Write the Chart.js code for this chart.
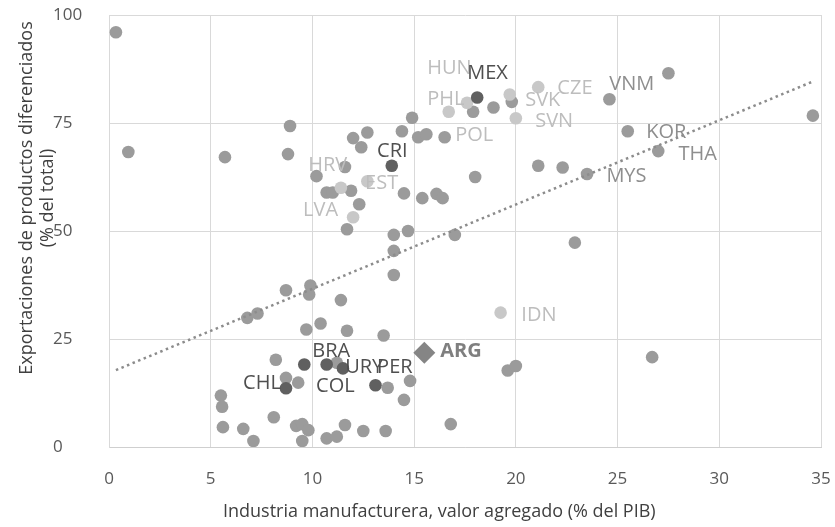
<!DOCTYPE html>
<html>
<head>
<meta charset="utf-8">
<script src="https://cdn.jsdelivr.net/npm/chart.js@4.4.0/dist/chart.umd.min.js"></script>
<style>
  body { margin: 0; background: #fff; }
  #chart { display: block; }
</style>
</head>
<body>
<canvas id="chart" width="835" height="527"></canvas>
<script>
// Countries without a highlight (plain gray dots)
const otherX = [0.34, 0.95, 5.7, 8.9, 8.8, 10.2, 11.6, 10.7, 11.0, 12.7, 12.0, 12.4, 14.4, 14.9, 15.2, 15.6, 16.5,
  18.0, 11.9, 14.5, 15.4, 16.1, 16.4, 12.3, 11.7, 14.0, 14.7, 17.0, 17.9, 18.9, 19.8, 21.1, 22.3, 27.5, 24.6,
  34.6, 25.5, 27.0, 23.5, 22.9, 14.0, 14.0, 8.7, 9.9, 9.84, 11.4, 6.8, 7.3, 9.7, 10.4, 11.7, 13.5, 8.2, 11.2,
  8.7, 9.3, 13.7, 14.8, 14.5, 19.6, 20.0, 26.7, 5.5, 5.56, 8.1, 5.6, 6.6, 7.1, 9.2, 9.5, 9.8, 9.5, 10.7, 11.2,
  11.6, 12.5, 13.6, 16.8];
const otherY = [96.0, 68.3, 67.1, 74.3, 67.8, 62.7, 64.8, 58.9, 58.9, 72.8, 71.5, 69.4, 73.1, 76.2, 71.7, 72.4, 71.7,
  62.5, 59.3, 58.7, 57.6, 58.6, 57.6, 56.2, 50.4, 49.1, 50.0, 49.1, 77.6, 78.6, 79.9, 65.1, 64.7, 86.5, 80.5,
  76.7, 73.1, 68.5, 63.2, 47.3, 45.4, 39.8, 36.3, 37.4, 35.3, 34.0, 29.9, 30.9, 27.2, 28.6, 26.9, 25.8, 20.2, 19.5,
  16.0, 14.9, 13.7, 15.3, 10.9, 17.7, 18.75, 20.8, 11.9, 9.3, 6.9, 4.6, 4.2, 1.4, 4.9, 5.3, 3.9, 1.4, 2.0, 2.4,
  5.1, 3.7, 3.7, 5.3];

// Light gray group (HUN, PHL, SVK, CZE, SVN, HRV, EST, LVA, IDN)
const lightX = [16.7, 17.6, 19.7, 21.1, 20.0, 11.4, 12.7, 12.0, 19.25];
const lightY = [77.6, 79.7, 81.6, 83.3, 76.1, 60.0, 61.5, 53.2, 31.1];

// Dark gray group (MEX, CRI, BRA, COL, URY, CHL, PER)
const darkX = [18.1, 13.9, 9.6, 10.7, 11.5, 8.7, 13.1];
const darkY = [80.9, 65.1, 19.1, 19.1, 18.2, 13.6, 14.3];

// Argentina
const argX = [15.5];
const argY = [21.8];

// Linear trend (ends at the data range)
const trendX = [0.34, 34.6];
const trendY = [17.8, 84.6];

const xTicks = [0, 5, 10, 15, 20, 25, 30, 35];
const yTicks = [0, 25, 50, 75, 100];

// Country labels: name, anchor in data units, colour group
const labelNames = ['HUN', 'MEX', 'PHL', 'SVK', 'CZE', 'SVN', 'POL', 'VNM', 'KOR', 'THA', 'MYS', 'HRV', 'EST',
  'LVA', 'CRI', 'IDN', 'ARG', 'BRA', 'URY', 'PER', 'CHL', 'COL'];
const labelX = [15.64, 17.61, 15.64, 20.46, 22.04, 20.95, 17.02, 24.59, 26.41, 27.99, 24.45, 9.79, 12.59,
  9.54, 13.18, 20.27, 16.28, 9.99, 11.61, 13.18, 6.59, 10.18];
const labelY = [87.7, 86.6, 80.6, 80.3, 83.1, 75.5, 72.2, 84.0, 72.9, 67.8, 62.7, 65.3, 61.1,
  54.9, 68.5, 30.6, 22.2, 22.2, 18.5, 18.5, 14.8, 14.1];
const labelGroup = ['light', 'dark', 'light', 'light', 'light', 'light', 'light', 'mid', 'mid', 'mid', 'mid', 'light', 'light',
  'light', 'dark', 'light', 'arg', 'dark', 'dark', 'dark', 'dark', 'dark'];

const labelColors = { light: '#bdbdbd', mid: '#8e8e8e', dark: '#4f4f4f', arg: '#7f7f7f' };

const toPoints = (xs, ys) => xs.map((x, i) => ({ x: x, y: ys[i] }));

// Draw country labels and axis titles
const labelPlugin = {
  id: 'labelPlugin',
  afterDatasetsDraw(chart) {
    const ctx = chart.ctx;
    const xs = chart.scales.x;
    const ys = chart.scales.y;
    ctx.save();
    ctx.textBaseline = 'middle';
    ctx.textAlign = 'left';
    labelNames.forEach((name, i) => {
      const g = labelGroup[i];
      ctx.font = (g === 'arg' ? 'bold ' : '') + '20px "Open Sans"';
      ctx.fillStyle = labelColors[g];
      ctx.fillText(name, xs.getPixelForValue(labelX[i]), ys.getPixelForValue(labelY[i]));
    });
    ctx.restore();
  },
  afterDraw(chart) {
    const ctx = chart.ctx;
    const area = chart.chartArea;
    ctx.save();
    ctx.fillStyle = '#404040';
    ctx.font = '18px "Open Sans"';
    ctx.textAlign = 'left';
    ctx.textBaseline = 'middle';
    ctx.fillText('Industria manufacturera, valor agregado (% del PIB)', area.left + 114, area.bottom + 65);
    ctx.textAlign = 'center';
    ctx.translate(area.left - 82, area.top + 183);
    ctx.rotate(-Math.PI / 2);
    ctx.fillText('Exportaciones de productos diferenciados', 0, 0);
    ctx.fillText('(% del total)', 0, 21);
    ctx.restore();
  }
};

const ctx = document.getElementById('chart').getContext('2d');
new Chart(ctx, {
  type: 'scatter',
  data: {
    datasets: [
      {
        type: 'line',
        data: toPoints(trendX, trendY),
        borderColor: '#8c8c8c',
        borderWidth: 2.5,
        borderDash: [2.5, 3.5],
        pointRadius: 0,
        fill: false,
        order: 0
      },
      {
        data: toPoints(argX, argY),
        pointStyle: 'rectRot',
        pointRadius: 11,
        backgroundColor: '#858585',
        borderWidth: 0,
        order: 1
      },
      {
        data: toPoints(darkX, darkY),
        pointRadius: 6.3,
        backgroundColor: '#606060',
        borderWidth: 0,
        order: 2
      },
      {
        data: toPoints(lightX, lightY),
        pointRadius: 6.3,
        backgroundColor: '#c8c8c8',
        borderWidth: 0,
        order: 3
      },
      {
        data: toPoints(otherX, otherY),
        pointRadius: 6.3,
        backgroundColor: '#9b9b9b',
        borderWidth: 0,
        order: 4
      }
    ]
  },
  options: {
    responsive: false,
    animation: false,
    layout: { padding: { top: 15, right: 14, left: 53, bottom: 0 } },
    plugins: {
      legend: { display: false },
      tooltip: { enabled: false }
    },
    scales: {
      x: {
        type: 'linear',
        min: 0,
        max: 35,
        afterBuildTicks: (axis) => { axis.ticks = xTicks.map(v => ({ value: v })); },
        afterFit: (axis) => {
          axis.height = 80;
          axis.paddingLeft = 0;
          axis.paddingRight = 0;
        },
        grid: { color: '#d9d9d9', drawTicks: false },
        border: { color: '#cfcfcf' },
        ticks: { color: '#595959', font: { family: 'Open Sans', size: 17 }, padding: 22 }
      },
      y: {
        type: 'linear',
        min: 0,
        max: 100,
        afterBuildTicks: (axis) => { axis.ticks = yTicks.map(v => ({ value: v })); },
        afterFit: (axis) => {
          axis.width = 56;
          axis.paddingTop = 0;
          axis.paddingBottom = 0;
        },
        grid: { color: '#d9d9d9', drawTicks: false },
        border: { color: '#d9d9d9' },
        ticks: { color: '#595959', font: { family: 'Open Sans', size: 17 }, crossAlign: 'far' }
      }
    }
  },
  plugins: [labelPlugin]
});
</script>
</body>
</html>
